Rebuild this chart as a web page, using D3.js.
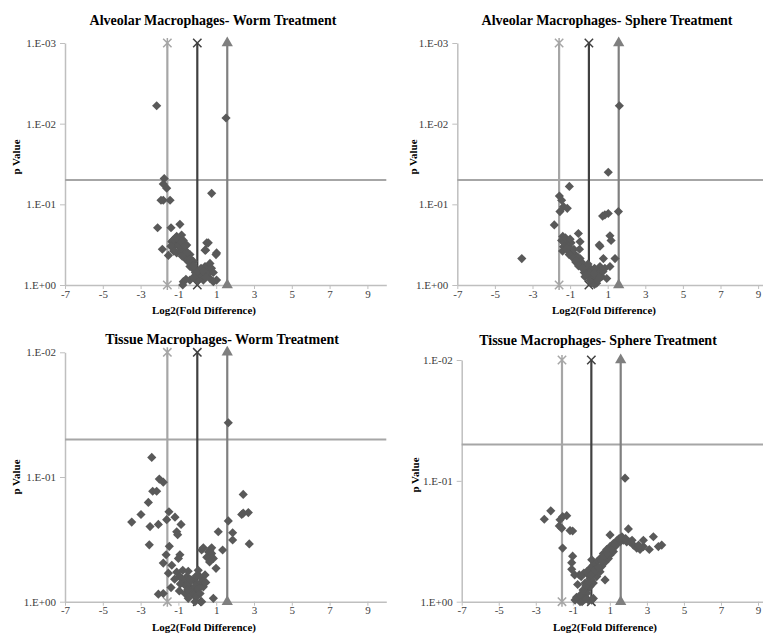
<!DOCTYPE html>
<html>
<head>
<meta charset="utf-8">
<script src="https://cdn.jsdelivr.net/npm/d3@7"></script>
<style>
  body { margin: 0; background: #fff; }
  svg { display: block; font-family: "Liberation Serif", "Times New Roman", serif; }
</style>
</head>
<body>
<svg id="chart" width="763" height="635"></svg>
<script>
// values: [log2(fold difference), p value]
const amWorm = [
  [-2.15,0.006],[1.52,0.0085],[-1.75,0.048],[-1.8,0.056],[-1.62,0.063],[0.76,0.073],[-1.8,0.089],[-1.92,0.089],
  [-1.44,0.089],[-2.1,0.195],[-0.92,0.177],[-1.39,0.195],[-1.85,0.36],[-1.53,0.43],[-1.35,0.29],[-1.09,0.25],
  [-0.83,0.24],[-0.74,0.28],[-1.27,0.34],[-0.92,0.34],[-0.56,0.32],[-1.09,0.40],[-0.74,0.40],[-0.39,0.42],
  [-0.56,0.49],[-0.21,0.51],[-0.39,0.59],[-0.12,0.65],[0.05,0.75],[0.23,0.68],[0.41,0.59],[0.67,0.54],
  [1.02,0.40],[0.5,0.30],[0.41,0.37],[-0.12,0.83],[-0.74,0.91],[-0.39,0.87],[0.32,0.87],[0.67,0.83],
  [1.02,0.87],[-0.77,1.0],[0.85,0.91],[0.58,0.30],[0.44,0.37],[0.99,0.42],[-1.2,0.31],[-1.0,0.30],
  [-0.8,0.35],[-0.6,0.38],[-0.5,0.45],[-0.3,0.55],[-0.25,0.62],[-0.1,0.70],[0.1,0.72],[0.15,0.80],
  [0.3,0.75],[0.5,0.65],[-0.45,0.52],[-0.7,0.45],[-0.9,0.38],[-1.15,0.26],[-1.3,0.28],
  [-1.05,0.27],[-0.95,0.32],[-0.85,0.29],[-0.65,0.33],[-0.55,0.40],[-0.35,0.48],[-0.2,0.58],[0.0,0.68],
  [0.2,0.62],[0.35,0.68],[0.6,0.72],[0.75,0.62],[0.0,0.88],[-0.2,0.80],[0.45,0.80],[-0.6,0.85],
  [0.85,0.70],[-1.4,0.33],[-1.25,0.38],[-0.8,0.44]
];
const amSphere = [
  [1.62,0.006],[1.03,0.040],[-1.04,0.060],[-1.57,0.079],[-1.45,0.089],[-1.35,0.107],[-1.15,0.112],[-1.54,0.123],
  [1.57,0.123],[0.73,0.14],[1.03,0.13],[0.85,0.135],[-1.84,0.18],[-3.57,0.47],[-0.56,0.23],[1.12,0.245],
  [1.18,0.28],[0.59,0.33],[1.39,0.47],[1.12,0.59],[-1.39,0.25],[-1.18,0.28],[-0.47,0.29],[-1.35,0.335],
  [-1.0,0.37],[-0.74,0.42],[-0.47,0.47],[-0.3,0.565],[-0.12,0.65],[0.06,0.79],[-0.21,0.79],[0.24,0.91],
  [0.41,0.72],[0.59,0.59],[0.77,0.47],[0.68,0.79],[0.95,0.83],[0.41,0.95],[0.55,0.32],[-1.3,0.30],
  [-1.1,0.33],[-0.9,0.40],[-0.8,0.36],[-0.6,0.45],[-0.4,0.52],[-0.25,0.70],[0.0,0.60],[0.1,0.70],
  [0.2,0.85],[0.35,0.80],[0.5,0.68],[-1.45,0.28],[-1.25,0.26],[-0.5,0.36],[-0.95,0.30],[-0.7,0.52],[0.3,0.62],
  [-1.4,0.38],[-1.2,0.36],[-1.05,0.42],[-0.85,0.46],[-0.65,0.50],[-0.55,0.58],[-0.35,0.62],[-0.15,0.75],
  [0.05,0.88],[0.15,0.95],[0.3,0.98],[0.45,0.88],[0.6,0.80],[0.75,0.68],[0.25,0.72],[-0.05,0.55],
  [-1.0,0.27],[0.85,0.62]
];
const tmWorm = [
  [1.64,0.0367],[-2.41,0.0697],[-2.01,0.104],[-1.80,0.11],[-2.36,0.13],[-2.15,0.13],[-2.59,0.16],[-2.98,0.2],
  [-3.47,0.23],[-2.5,0.25],[-2.06,0.24],[-1.5,0.19],[-1.18,0.21],[-1.62,0.22],[-0.86,0.24],[-1.09,0.275],
  [-1.04,0.29],[-2.54,0.35],[-1.48,0.36],[-1.65,0.42],[-1.80,0.49],[-1.35,0.51],[-0.92,0.42],[-1.0,0.45],
  [-1.53,0.59],[-2.06,0.87],[-1.80,0.86],[-1.39,0.77],[-0.95,0.82],[-0.77,0.56],[-0.56,0.63],[-0.74,0.71],
  [-0.39,0.76],[-0.21,0.67],[-0.03,0.81],[-0.3,0.86],[0.23,0.71],[0.14,0.63],[0.41,0.61],[0.32,0.76],
  [-0.12,1.0],[0.23,1.0],[0.85,0.94],[-0.48,0.57],[0.05,0.56],[0.23,0.385],[0.67,0.385],[0.85,0.45],
  [0.58,0.435],[0.76,0.41],[0.32,0.37],[0.76,0.37],[0.99,0.54],[1.34,0.385],[1.11,0.275],[1.64,0.225],
  [1.87,0.28],[1.87,0.32],[2.43,0.138],[2.43,0.195],[2.7,0.193],[2.35,0.2],[2.75,0.344],[-1.09,0.58],
  [-0.92,0.63],[-0.56,0.71],[-0.21,0.78],[-0.30,0.67],[-0.03,0.71],[-0.65,0.86],[-0.21,0.88],[-0.48,0.94],
  [-0.8,0.66],[-0.6,0.75],[-0.4,0.66],[-0.1,0.75],[0.1,0.78],[0.3,0.68],[0.0,0.90],[-0.5,0.80],
  [0.45,0.70],[0.6,0.40],[0.7,0.43],[0.5,0.44],[0.65,0.48],[-1.2,0.66],[-0.9,0.72],[0.15,0.86],[-0.05,0.62]
];
const tmSphere = [
  [1.82,0.095],[-2.54,0.208],[-2.19,0.177],[-1.69,0.21],[-1.55,0.198],[-1.33,0.194],[-1.73,0.236],[-1.6,0.247],
  [-1.15,0.258],[-1.01,0.26],[-1.55,0.36],[-1.01,0.42],[-1.06,0.475],[-1.06,0.54],[-0.65,0.60],[-0.40,0.58],
  [-0.16,0.60],[-0.74,0.72],[-0.34,0.70],[0.02,0.45],[0.74,0.66],[-0.88,0.97],[-0.70,0.94],[-0.52,0.91],
  [-0.34,0.85],[-0.25,0.80],[-0.07,0.75],[0.11,0.70],[-0.61,1.0],[-0.16,0.97],[0.11,0.94],[0.29,0.62],
  [0.47,0.565],[0.56,0.51],[0.74,0.47],[0.92,0.44],[1.01,0.41],[1.19,0.385],[1.28,0.35],[1.37,0.33],
  [1.55,0.32],[1.73,0.31],[1.91,0.32],[2.09,0.32],[2.27,0.34],[2.45,0.36],[2.63,0.37],[2.81,0.35],
  [2.81,0.31],[3.13,0.37],[3.35,0.29],[3.62,0.35],[3.80,0.34],[1.01,0.28],[2.0,0.25],[1.4,0.31],
  [1.19,0.33],[1.01,0.35],[0.83,0.37],[0.65,0.40],[0.47,0.44],[0.29,0.47],[0.11,0.50],[-0.07,0.53],
  [-0.25,0.565],[0.11,0.58],[-0.07,0.64],[-0.25,0.85],[-0.43,0.97],[0.02,0.97],[0.02,0.66],
  [-0.8,0.92],[-0.6,0.88],[-0.45,0.80],[-0.3,0.74],[-0.15,0.68],[0.0,0.60],[0.2,0.55],[0.38,0.52],
  [0.55,0.46],[0.7,0.42],[0.88,0.40],[1.1,0.37],[1.3,0.34],[1.5,0.30],[1.65,0.29],[1.85,0.30],
  [2.2,0.31],[2.55,0.34],[-0.5,1.0],[-0.3,0.95],[-0.9,0.60],[-0.55,0.62]
];

const titles = ["Alveolar Macrophages- Worm Treatment", "Alveolar Macrophages- Sphere Treatment",
                "Tissue Macrophages- Worm Treatment", "Tissue Macrophages- Sphere Treatment"];
const xTicks = [-7, -5, -3, -1, 1, 3, 5, 7, 9];
const xDomain = [-7, 10];
const pCutoff = 0.05;
const foldLines = [Math.log2(1 / 3), 0, Math.log2(3)];   // 3-fold down, none, 3-fold up
const yTicksTop = [1, 0.1, 0.01, 0.001];
const yTicksBottom = [1, 0.1, 0.01];

// layout of the four panels
const panels = [
  {data: amWorm,   title: titles[0], ticks: yTicksTop,    left: 65,    ppu: 18.9,  top: 43,    bottom: 285,   tx: 213, ty: 25,  lx: 204, ly: 314, px: 16,  py: 157},
  {data: amSphere, title: titles[1], ticks: yTicksTop,    left: 457.3, ppu: 18.8,  top: 43,    bottom: 285,   tx: 607, ty: 25,  lx: 604, ly: 314, px: 413, py: 157},
  {data: tmWorm,   title: titles[2], ticks: yTicksBottom, left: 65,    ppu: 18.9,  top: 352.3, bottom: 601.7, tx: 222, ty: 344, lx: 204, ly: 631, px: 16,  py: 477},
  {data: tmSphere, title: titles[3], ticks: yTicksBottom, left: 461.7, ppu: 18.52, top: 360,   bottom: 601.7, tx: 598, ty: 345, lx: 605, ly: 631, px: 415, py: 475}
];

const symStar = {draw(ctx, size) {
  const r = Math.sqrt(size) / 2;
  ctx.moveTo(-r, -r); ctx.lineTo(r, r);
  ctx.moveTo(-r, r); ctx.lineTo(r, -r);
  ctx.moveTo(0, -r * 1.2); ctx.lineTo(0, r * 1.2);
}};
const symX = {draw(ctx, size) {
  const r = Math.sqrt(size) / 2;
  ctx.moveTo(-r, -r); ctx.lineTo(r, r);
  ctx.moveTo(-r, r); ctx.lineTo(r, -r);
}};
const lineStyles = [
  {color: "#a6a6a6", sym: symStar, fill: "none"},
  {color: "#404040", sym: symX, fill: "none"},
  {color: "#7f7f7f", sym: d3.symbolTriangle, fill: "#7f7f7f"}
];

const fmtP = p => {
  const e = Math.round(Math.log10(p));
  return "1.E" + (e < 0 ? "-" : "+") + String(Math.abs(e)).padStart(2, "0");
};

const svg = d3.select("#chart");

panels.forEach(cfg => {
  const x = d3.scaleLinear().domain(xDomain).range([cfg.left, cfg.left + (xDomain[1] - xDomain[0]) * cfg.ppu]);
  const yMin = d3.min(cfg.ticks);
  const y = d3.scaleLog().domain([1, yMin]).range([cfg.bottom, cfg.top]);
  const g = svg.append("g");

  // axes
  const xAxis = g.append("g")
    .attr("transform", "translate(0," + cfg.bottom + ")")
    .call(d3.axisBottom(x).tickValues(xTicks).tickSize(4).tickSizeOuter(0).tickFormat(d => String(d)));
  const yAxis = g.append("g")
    .attr("transform", "translate(" + cfg.left + ",0)")
    .call(d3.axisLeft(y).tickValues(cfg.ticks).tickSize(5).tickSizeOuter(0).tickFormat(fmtP));
  [xAxis, yAxis].forEach(a => {
    a.select(".domain").attr("stroke", "#bfbfbf").attr("stroke-width", 1.5);
    a.selectAll(".tick line").attr("stroke", "#bfbfbf");
    a.selectAll(".tick text").attr("fill", "#404040").attr("font-size", "11px")
      .attr("font-family", "Liberation Serif, serif");
  });
  xAxis.selectAll(".tick text").attr("y", 5).attr("dy", "0.71em");
  yAxis.selectAll(".tick text").attr("x", -9);

  // p = 0.05 cut-off
  g.append("line")
    .attr("x1", x(xDomain[0])).attr("x2", x(xDomain[1]))
    .attr("y1", y(pCutoff)).attr("y2", y(pCutoff))
    .attr("stroke", "#a6a6a6").attr("stroke-width", 2);

  // fold-change lines with end markers
  foldLines.forEach((f, i) => {
    const s = lineStyles[i];
    g.append("line")
      .attr("x1", x(f)).attr("x2", x(f))
      .attr("y1", y(1)).attr("y2", y(yMin))
      .attr("stroke", s.color).attr("stroke-width", 2.2);
    g.selectAll(null)
      .data([1, yMin])
      .enter().append("path")
      .attr("transform", d => "translate(" + x(f) + "," + y(d) + ")")
      .attr("d", d3.symbol().type(s.sym).size(s.sym === d3.symbolTriangle ? 55 : 70))
      .attr("fill", s.fill)
      .attr("stroke", s.color)
      .attr("stroke-width", s.fill === "none" ? 1.5 : 0);
  });

  // genes
  g.append("g")
    .attr("fill", "#595959")
    .selectAll("path")
    .data(cfg.data)
    .enter().append("path")
    .attr("transform", d => "translate(" + x(d[0]) + "," + y(d[1]) + ")rotate(45)")
    .attr("d", d3.symbol().type(d3.symbolSquare).size(42));

  // texts
  g.append("text")
    .attr("x", cfg.tx).attr("y", cfg.ty)
    .attr("text-anchor", "middle")
    .attr("font-size", "14px").attr("font-weight", "bold")
    .text(cfg.title);
  g.append("text")
    .attr("x", cfg.lx).attr("y", cfg.ly)
    .attr("text-anchor", "middle")
    .attr("font-size", "11px").attr("font-weight", "bold")
    .text("Log2(Fold Difference)");
  g.append("text")
    .attr("transform", "translate(" + (cfg.px + 4) + "," + cfg.py + ")rotate(-90)")
    .attr("text-anchor", "middle")
    .attr("font-size", "11px").attr("font-weight", "bold")
    .text("p Value");
});
</script>
</body>
</html>
